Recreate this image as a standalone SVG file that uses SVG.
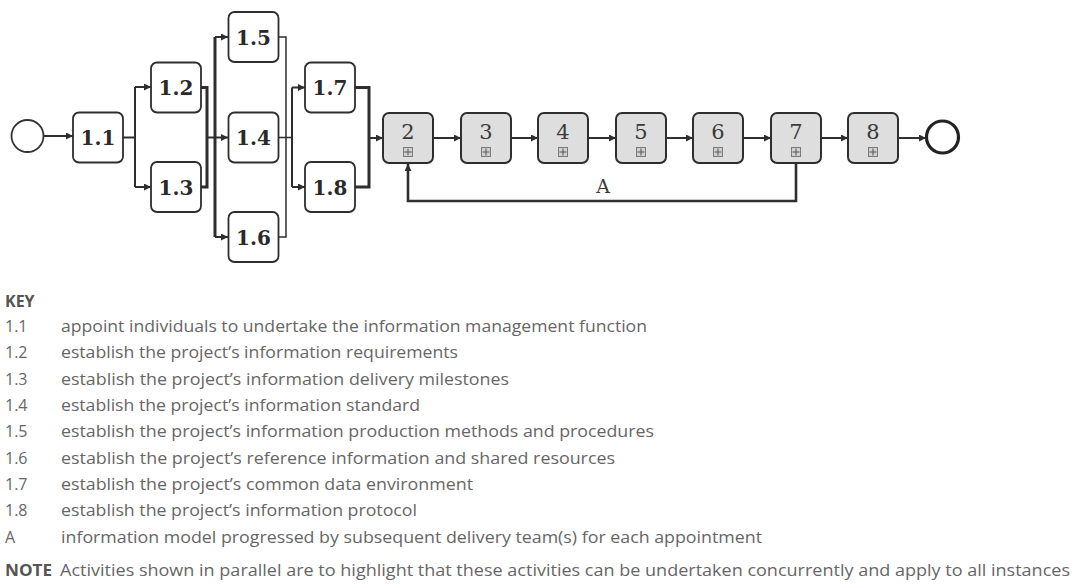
<svg xmlns="http://www.w3.org/2000/svg" width="1075" height="588" viewBox="0 0 1075 588">
  <defs>
    <style>
      .box { fill: #ffffff; stroke: #2e2e2e; stroke-width: 1.8; }
      .sub { fill: #dedede; stroke: #2e2e2e; stroke-width: 2; }
      .lbl { font-family: "DejaVu Serif", "Liberation Serif", serif; font-size: 20px; font-weight: bold; fill: #2a2a2a; text-anchor: middle; }
      .num { font-family: "DejaVu Serif", "Liberation Serif", serif; font-size: 21px; fill: #3a3a3a; text-anchor: middle; }
      .mk { fill: #d0d0d0; stroke: #7a7a7a; stroke-width: 1; }
      .mkp { stroke: #555555; stroke-width: 1; }
      .wire { fill: none; stroke: #2e2e2e; stroke-width: 2; }
      .thin { stroke-width: 1.5; }
      .thick { stroke-width: 3; }
      .key { font-family: "Open Sans", "Liberation Sans", sans-serif; font-size: 16px; fill: #666666; }
      .keyb { font-weight: bold; fill: #555555; }
    </style>
    <marker id="arr" viewBox="0 0 10 10" refX="10" refY="5" markerWidth="7" markerHeight="7" markerUnits="userSpaceOnUse" orient="auto">
      <path d="M0,0 L10,5 L0,10 z" fill="#2e2e2e"/>
    </marker>
    <g id="plus">
      <rect class="mk" x="-4.5" y="-4.5" width="9" height="9"/>
      <path class="mkp" d="M0,-3.5 V3.5 M-3.5,0 H3.5"/>
    </g>
  </defs>

  <!-- events -->
  <g id="start"><circle cx="27.5" cy="136" r="16" fill="#fff" stroke="#333" stroke-width="1.8"/></g>
  <g id="end"><circle cx="942.5" cy="137" r="16" fill="#fff" stroke="#222" stroke-width="3.2"/></g>

  <!-- connectors -->
  <g id="connectors">
    <path class="wire" d="M43.5,136 H73" marker-end="url(#arr)"/>
    <path class="wire" d="M123,137.5 H135"/>
    <path class="wire" d="M135,87 V187"/>
    <path class="wire" d="M135,87 H151" marker-end="url(#arr)"/>
    <path class="wire" d="M135,187 H151" marker-end="url(#arr)"/>
    <path class="wire thick" d="M201,87.5 H207 V187 H201"/>
    <path class="wire" d="M207,137.5 H228" marker-end="url(#arr)"/>
    <path class="wire thick" d="M215,37 V237"/>
    <path class="wire" d="M215,37 H228" marker-end="url(#arr)"/>
    <path class="wire" d="M215,237 H228" marker-end="url(#arr)"/>
    <path class="wire thin" d="M279,37 H286 V237 H279 M279,137.5 H292"/>
    <path class="wire" d="M292,87.5 V187"/>
    <path class="wire" d="M292,87.5 H305" marker-end="url(#arr)"/>
    <path class="wire" d="M292,187 H305" marker-end="url(#arr)"/>
    <path class="wire thick" d="M355,87.5 H369 V187 H355"/>
    <path class="wire" d="M369,138 H383" marker-end="url(#arr)"/>
    <path class="wire" d="M433,138 H461" marker-end="url(#arr)"/>
    <path class="wire" d="M511,138 H538" marker-end="url(#arr)"/>
    <path class="wire" d="M588,138 H616" marker-end="url(#arr)"/>
    <path class="wire" d="M666,138 H693" marker-end="url(#arr)"/>
    <path class="wire" d="M743,138 H771" marker-end="url(#arr)"/>
    <path class="wire" d="M821,138 H848" marker-end="url(#arr)"/>
    <path class="wire" d="M898,138 H926" marker-end="url(#arr)"/>
    <path class="wire" style="stroke-width:2.6" d="M796,163 V201 H408 V164" marker-end="url(#arr)"/>
    <text x="603" y="193" class="num" style="font-size:19px">A</text>
  </g>

  <!-- activities 1.x -->
  <g id="n1_1"><rect class="box" x="73" y="112.5" width="50" height="50" rx="6"/><text class="lbl" x="98" y="145">1.1</text></g>
  <g id="n1_2"><rect class="box" x="151" y="62.5" width="50" height="50" rx="6"/><text class="lbl" x="176" y="95">1.2</text></g>
  <g id="n1_3"><rect class="box" x="151" y="162" width="50" height="50" rx="6"/><text class="lbl" x="176" y="194.5">1.3</text></g>
  <g id="n1_5"><rect class="box" x="228.5" y="12" width="50" height="50" rx="6"/><text class="lbl" x="253.5" y="44.5">1.5</text></g>
  <g id="n1_4"><rect class="box" x="228.5" y="112.5" width="50" height="50" rx="6"/><text class="lbl" x="253.5" y="145">1.4</text></g>
  <g id="n1_6"><rect class="box" x="228.5" y="212" width="50" height="50" rx="6"/><text class="lbl" x="253.5" y="244.5">1.6</text></g>
  <g id="n1_7"><rect class="box" x="305" y="62.5" width="50" height="50" rx="6"/><text class="lbl" x="330" y="95">1.7</text></g>
  <g id="n1_8"><rect class="box" x="305" y="162" width="50" height="50" rx="6"/><text class="lbl" x="330" y="194.5">1.8</text></g>

  <!-- sub-processes 2..8 -->
  <g id="n2"><rect class="sub" x="383" y="113" width="50" height="50" rx="6"/><text class="num" x="408" y="138.5">2</text><use href="#plus" x="408" y="152"/></g>
  <g id="n3"><rect class="sub" x="461" y="113" width="50" height="50" rx="6"/><text class="num" x="486" y="138.5">3</text><use href="#plus" x="486" y="152"/></g>
  <g id="n4"><rect class="sub" x="538" y="113" width="50" height="50" rx="6"/><text class="num" x="563" y="138.5">4</text><use href="#plus" x="563" y="152"/></g>
  <g id="n5"><rect class="sub" x="616" y="113" width="50" height="50" rx="6"/><text class="num" x="641" y="138.5">5</text><use href="#plus" x="641" y="152"/></g>
  <g id="n6"><rect class="sub" x="693" y="113" width="50" height="50" rx="6"/><text class="num" x="718" y="138.5">6</text><use href="#plus" x="718" y="152"/></g>
  <g id="n7"><rect class="sub" x="771" y="113" width="50" height="50" rx="6"/><text class="num" x="796" y="138.5">7</text><use href="#plus" x="796" y="152"/></g>
  <g id="n8"><rect class="sub" x="848" y="113" width="50" height="50" rx="6"/><text class="num" x="873" y="138.5">8</text><use href="#plus" x="873" y="152"/></g>

  <!-- key -->
  <g id="key" class="key">
    <text x="5" y="307" class="keyb">KEY</text>
    <text x="5" y="332">1.1</text><text x="61" y="332" textLength="586" lengthAdjust="spacingAndGlyphs">appoint individuals to undertake the information management function</text>
    <text x="5" y="358">1.2</text><text x="61" y="358" textLength="397" lengthAdjust="spacingAndGlyphs">establish the project’s information requirements</text>
    <text x="5" y="385">1.3</text><text x="61" y="385" textLength="448" lengthAdjust="spacingAndGlyphs">establish the project’s information delivery milestones</text>
    <text x="5" y="411">1.4</text><text x="61" y="411" textLength="359" lengthAdjust="spacingAndGlyphs">establish the project’s information standard</text>
    <text x="5" y="437">1.5</text><text x="61" y="437" textLength="593" lengthAdjust="spacingAndGlyphs">establish the project’s information production methods and procedures</text>
    <text x="5" y="464">1.6</text><text x="61" y="464" textLength="554" lengthAdjust="spacingAndGlyphs">establish the project’s reference information and shared resources</text>
    <text x="5" y="490">1.7</text><text x="61" y="490" textLength="412" lengthAdjust="spacingAndGlyphs">establish the project’s common data environment</text>
    <text x="5" y="516">1.8</text><text x="61" y="516" textLength="356" lengthAdjust="spacingAndGlyphs">establish the project’s information protocol</text>
    <text x="5" y="543">A</text><text x="61" y="543" textLength="701" lengthAdjust="spacingAndGlyphs">information model progressed by subsequent delivery team(s) for each appointment</text>
    <text x="5" y="576" class="keyb" textLength="47" lengthAdjust="spacingAndGlyphs">NOTE</text><text x="60" y="576" textLength="1010" lengthAdjust="spacingAndGlyphs">Activities shown in parallel are to highlight that these activities can be undertaken concurrently and apply to all instances</text>
  </g>
</svg>
